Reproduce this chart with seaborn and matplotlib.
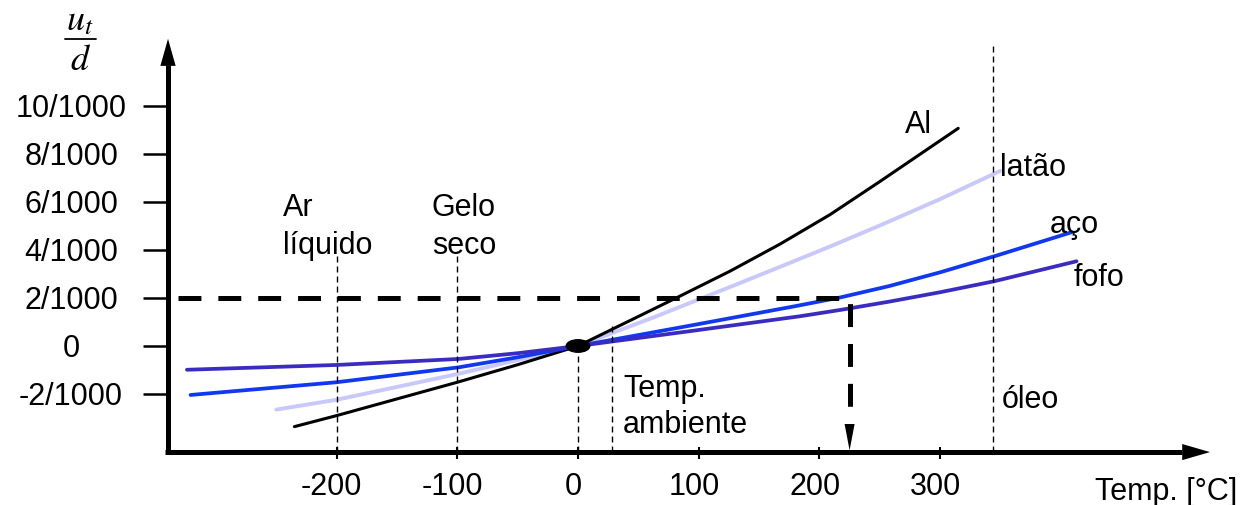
import matplotlib
matplotlib.use('Agg')
import matplotlib.pyplot as plt
import numpy as np
import pandas as pd
import seaborn as sns
from matplotlib.patches import Ellipse

# Dados (temperatura em °C, deformação em 1/1000)
al_temp = [-235, -200, -100, -50, 0, 84.5, 126, 167.5, 209, 250, 315]
al_def = [-3.36, -2.9, -1.51, -0.78, 0, 2.08, 3.12, 4.25, 5.48, 6.85, 9.07]

latao_temp = [-250, -200, -100, 0, 62, 84.5, 126, 167.5, 209, 250, 300, 350]
latao_def = [-2.65, -2.24, -1.17, 0, 1.18, 1.63, 2.46, 3.3, 4.15, 5.02, 6.12, 7.3]

aco_temp = [-321, -200, -99, -50, 0, 93, 180, 217, 258, 300, 345, 409]
aco_def = [-2.04, -1.51, -0.89, -0.47, 0, 0.85, 1.66, 2.02, 2.5, 3.07, 3.74, 4.74]

fofo_temp = [-324, -200, -99, -50, 0, 93, 184, 217, 258, 300, 345, 413]
fofo_def = [-0.99, -0.79, -0.54, -0.3, 0, 0.62, 1.24, 1.5, 1.85, 2.24, 2.7, 3.53]

materiais = ['latão', 'Al', 'aço', 'fofo']
cores = {'latão': '#c8c8fa', 'Al': '#000000', 'aço': '#1038f0', 'fofo': '#3a2cc0'}
espessura = {'latão': 2.8, 'Al': 2.2, 'aço': 2.7, 'fofo': 2.7}

# linhas de referência (ar líquido, gelo seco, 0, ambiente, óleo)
ref_temp = [-200, -100, 0, 28, 344]
ref_topo = [3.76, 3.97, 0, 0.85, 12.67]

# ponto de leitura (2/1000)
leitura_def = 2
leitura_temp = 225

x_ticks = [-200, -100, 0, 100, 200, 300]
x_labels = ['-200', '-100', '0', '100', '200', '300']
y_ticks = [10, 8, 6, 4, 2, 0, -2]
y_labels = ['10/1000', '8/1000', '6/1000', '4/1000', '2/1000', '0', '-2/1000']

sns.set_style('white')
plt.rcParams['font.family'] = ['Liberation Sans', 'DejaVu Sans']
plt.rcParams['mathtext.fontset'] = 'stix'
plt.rcParams['lines.scale_dashes'] = False
plt.rcParams['text.color'] = 'black'

fig = plt.figure(figsize=(12.45, 5.06), dpi=100)
ax = fig.add_axes([0, 0, 1, 1])
ax.set_xlim(-478.9, 552.6)
ax.set_ylim(-6.625, 14.458)
ax.axis('off')

# curvas
frames = []
for nome, t, d in [('Al', al_temp, al_def), ('latão', latao_temp, latao_def),
                   ('aço', aco_temp, aco_def), ('fofo', fofo_temp, fofo_def)]:
    frames.append(pd.DataFrame({'temp': t, 'def': d, 'material': nome}))
df = pd.concat(frames, ignore_index=True)
for nome in materiais:
    sns.lineplot(data=df[df['material'] == nome], x='temp', y='def',
                 color=cores[nome], linewidth=espessura[nome],
                 estimator=None, legend=False, ax=ax)

# eixos com setas
x0, y0 = -339.7, -4.42
ax.plot([x0, x0], [-4.52, 11.7], color='k', lw=3.6, solid_capstyle='butt')
ax.plot([-341.8, 500.4], [y0, y0], color='k', lw=3.6, solid_capstyle='butt')
ax.annotate('', xy=(x0, 12.8), xytext=(x0, 9.0),
            arrowprops=dict(arrowstyle='-|>,head_length=1.95,head_width=0.55',
                            color='k', lw=0, shrinkA=0, shrinkB=0))
ax.annotate('', xy=(523.6, y0), xytext=(470, y0),
            arrowprops=dict(arrowstyle='-|>,head_length=2.0,head_width=0.58',
                            color='k', lw=0, shrinkA=0, shrinkB=0))

# marcas dos eixos
fs = 22
ax.vlines(x_ticks, -4.21, -4.71, color='k', lw=1.5)
ax.hlines(y_ticks, -360.4, x0, color='k', lw=1.8)
for t, lab in zip(x_ticks, x_labels):
    ax.text(t - 4, -6.17, lab, ha='center', va='baseline', fontsize=fs)
for v, lab in zip(y_ticks, y_labels):
    ax.text(-420, v - 0.42, lab, ha='center', va='baseline', fontsize=fs)

# rótulo do eixo y: u_t / d
ax.text(-412.6, 13.21, r'$u_t$', ha='center', va='baseline', fontsize=26)
ax.text(-412.6, 11.54, r'$d$', ha='center', va='baseline', fontsize=26)
ax.plot([-425.2, -399.5], [12.81, 12.81], color='k', lw=1.3)

# linhas tracejadas finas
ax.vlines(ref_temp, y0, ref_topo, colors='k', lw=1.0, linestyles=(0, (4.3, 2.9)))

# leitura 2/1000 -> temperatura
ax.plot([-331.4, leitura_temp, leitura_temp], [leitura_def, leitura_def, -3.05],
        color='k', lw=3.6, dashes=(16.5, 12.2), zorder=4)
ax.annotate('', xy=(leitura_temp, -4.35), xytext=(leitura_temp, -2.0),
            arrowprops=dict(arrowstyle='-|>,head_length=1.9,head_width=0.36',
                            color='k', lw=0, shrinkA=0, shrinkB=0))

ax.add_patch(Ellipse((0, 0), width=19.5, height=0.52, color='k', zorder=6))

# textos
ax.text(-244.4, 5.46, 'Ar', fontsize=fs, va='baseline')
ax.text(-244.4, 3.875, 'líquido', fontsize=fs, va='baseline')
ax.text(-121, 5.46, 'Gelo', fontsize=fs, va='baseline')
ax.text(-121, 3.875, 'seco', fontsize=fs, va='baseline')
ax.text(37.3, -2.07, 'Temp.', fontsize=fs, va='baseline')
ax.text(37.3, -3.58, 'ambiente', fontsize=fs, va='baseline')
ax.text(271, 8.92, 'Al', fontsize=fs, va='baseline')
ax.text(349.6, 7.125, 'latão', fontsize=fs, va='baseline')
ax.text(391, 4.75, 'aço', fontsize=fs, va='baseline')
ax.text(411, 2.54, 'fofo', fontsize=fs, va='baseline')
ax.text(351, -2.54, 'óleo', fontsize=fs, va='baseline')
ax.text(428.3, -6.375, 'Temp. [°C]', fontsize=fs, va='baseline')

fig.savefig('out.png', dpi=100)
